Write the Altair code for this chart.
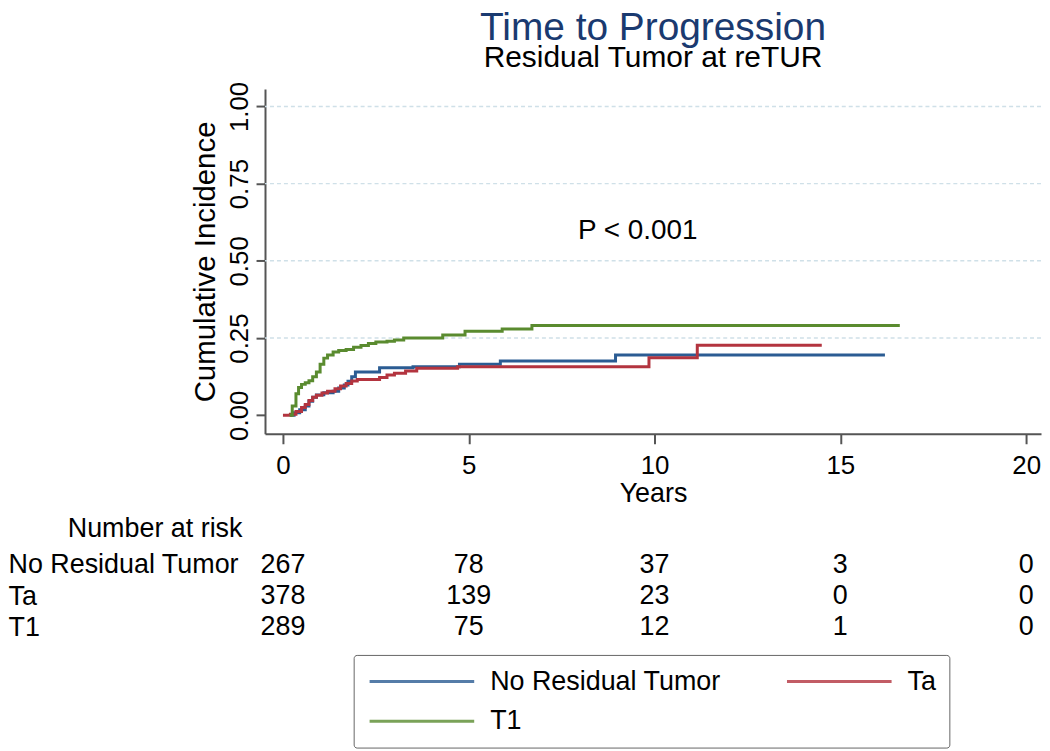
import altair as alt
import pandas as pd

FONT = "Liberation Sans, Arial, Helvetica, sans-serif"

groups = ["No Residual Tumor", "Ta", "T1"]
colors = ["#2b5c93", "#b3343f", "#5a8b2f"]

# Cumulative incidence step curves (time in years, value)
nrt_t = [0.2, 0.3, 0.45, 0.6, 0.7, 0.8, 0.9, 1.1, 1.35, 1.5, 1.65, 1.75, 1.85, 1.95, 2.6, 3.5, 4.75, 5.85, 8.95, 16.2]
nrt_v = [0.0, 0.008, 0.018, 0.03, 0.045, 0.058, 0.066, 0.073, 0.078, 0.088, 0.098, 0.11, 0.125, 0.14, 0.154, 0.157, 0.165, 0.176, 0.195, 0.195]

ta_t = [0.0, 0.2, 0.35, 0.5, 0.6, 0.7, 0.8, 0.9, 1.05, 1.2, 1.4, 1.55, 1.7, 1.85, 2.0, 2.6, 2.8, 3.0, 3.3, 3.6, 4.7, 9.85, 11.15, 14.5]
ta_v = [0.0, 0.003, 0.012, 0.025, 0.035, 0.048, 0.058, 0.065, 0.072, 0.078, 0.086, 0.095, 0.103, 0.111, 0.116, 0.122, 0.13, 0.136, 0.143, 0.152, 0.157, 0.186, 0.227, 0.227]

t1_t = [0.18, 0.25, 0.35, 0.42, 0.5, 0.6, 0.7, 0.8, 0.9, 1.0, 1.1, 1.2, 1.35, 1.5, 1.7, 1.9, 2.1, 2.3, 2.5, 2.8, 3.0, 3.25, 4.3, 4.9, 5.9, 6.7, 16.6]
t1_v = [0.0, 0.03, 0.07, 0.09, 0.1, 0.105, 0.112, 0.125, 0.14, 0.165, 0.185, 0.195, 0.205, 0.21, 0.213, 0.22, 0.226, 0.232, 0.237, 0.24, 0.244, 0.25, 0.26, 0.272, 0.279, 0.291, 0.291]

# Number at risk table
risk_times = [0, 5, 10, 15, 20]
risk_nrt = [267, 78, 37, 3, 0]
risk_ta = [378, 139, 23, 0, 0]
risk_t1 = [289, 75, 12, 1, 0]

x_ticks = [0, 5, 10, 15, 20]
y_ticks = [0, 0.25, 0.5, 0.75, 1.0]
grid_vals = [0.25, 0.5, 0.75, 1.0]

p_label = ["P < 0.001"]
p_t = [9.55]
p_v = [0.598]

rows = []
for g, ts, vs in zip(groups, [nrt_t, ta_t, t1_t], [nrt_v, ta_v, t1_v]):
    for i, (t, v) in enumerate(zip(ts, vs)):
        rows.append({"group": g, "t": t, "v": v, "i": i})
curves = pd.DataFrame(rows)

risk_rows = []
for g, ns in zip(groups, [risk_nrt, risk_ta, risk_t1]):
    for t, n in zip(risk_times, ns):
        risk_rows.append({"group": g, "t": t, "n": n})
risk_df = pd.DataFrame(risk_rows)

x_scale = alt.Scale(domain=[-0.483, 20.40], nice=False, zero=False)
y_scale = alt.Scale(domain=[-0.06, 1.056], nice=False, zero=False)
color_scale = alt.Scale(domain=groups, range=colors)

x_axis = alt.Axis(values=x_ticks, format="d", tickSize=10, labelFontSize=26, labelPadding=9,
                  titleFontSize=27, titlePadding=2, grid=False)
y_axis = alt.Axis(values=y_ticks, format=".2f", tickSize=9, labelFontSize=26, labelAngle=270,
                  labelAlign="center", labelBaseline="alphabetic", labelPadding=9,
                  titleFontSize=29.5, titlePadding=6, grid=False)

X = alt.X("t:Q", scale=x_scale, axis=x_axis, title="Years")
Y = alt.Y("v:Q", scale=y_scale, axis=y_axis, title="Cumulative Incidence")

grid = alt.Chart(pd.DataFrame({"v": grid_vals})).mark_rule(
    color="#cfe0e8", strokeDash=[4, 3], strokeWidth=1.5
).encode(y=Y)

lines = alt.Chart(curves).mark_line(interpolate="step-after", strokeWidth=3).encode(
    x=X,
    y=Y,
    color=alt.Color(
        "group:N", scale=color_scale, sort=groups,
        legend=alt.Legend(
            title=None, orient="none", legendX=89, legendY=568, columns=2, direction="horizontal",
            symbolType="M-1,0H9", symbolSize=441, symbolStrokeWidth=3, symbolOpacity=0.8,
            labelFontSize=27, labelFont=FONT, labelColor="black", labelOffset=97,
            columnPadding=60, rowPadding=12, padding=13,
            strokeColor="#666666", fillColor="white", cornerRadius=3, labelLimit=0,
        ),
    ),
    order="i:Q",
)

ptext = alt.Chart(pd.DataFrame({"t": p_t, "v": p_v, "label": p_label})).mark_text(
    fontSize=28, font=FONT, color="black"
).encode(x=X, y=Y, text="label:N")

top = alt.layer(grid, lines, ptext).properties(
    width=779, height=346,
    title=alt.TitleParams(
        text="Time to Progression", subtitle="Residual Tumor at reTUR",
        anchor="middle", frame="group", fontSize=39, font=FONT, fontWeight="normal",
        color="#1a3a70", subtitleFontSize=30, subtitleFont=FONT, subtitleColor="black",
        subtitlePadding=-5, offset=8,
    ),
)

risk = alt.Chart(risk_df).mark_text(fontSize=27, font=FONT, color="black", baseline="middle").encode(
    x=alt.X("t:Q", scale=x_scale, axis=None),
    y=alt.Y("group:N", sort=groups, scale=alt.Scale(domain=groups, padding=0.5),
            axis=alt.Axis(title=None, orient="left", domain=False, ticks=False, tickSize=0,
                          labelAlign="left", labelPadding=258, labelFontSize=27, labelFont=FONT,
                          labelColor="black", labelBaseline="middle", labelLimit=0)),
    text="n:Q",
).properties(
    width=779, height=94,
    title=alt.TitleParams(text="Number at risk", anchor="start", frame="group", dx=-198,
                          fontSize=27, font=FONT, fontWeight="normal", color="black", offset=6.5),
)

chart = alt.vconcat(top, risk, spacing=116, bounds="flush").properties(
    padding=0
).configure_view(stroke=None).configure_axis(
    domainColor="#555555", domainWidth=2, tickColor="#555555", tickWidth=2,
    labelColor="black", titleColor="black", titleFontWeight="normal",
    labelFont=FONT, titleFont=FONT,
).configure_text(font=FONT)

chart.save("out.html", embed_options={"renderer": "svg", "actions": False})
